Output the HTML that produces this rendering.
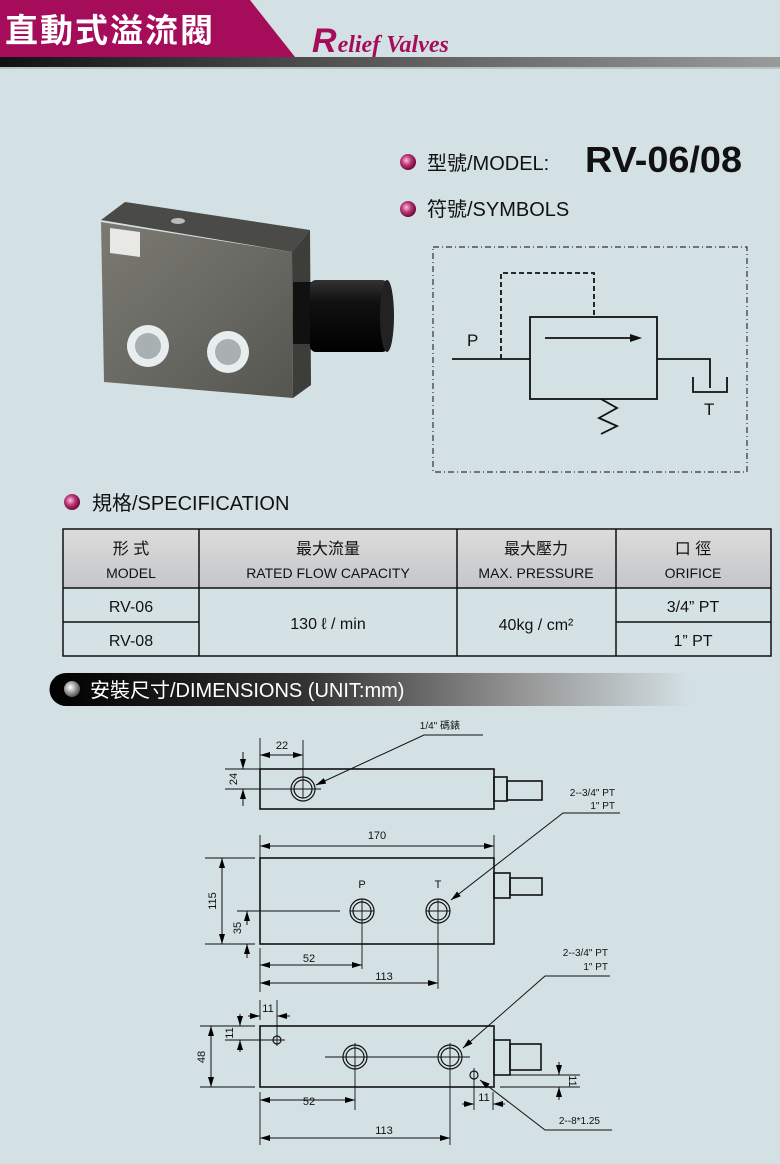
<!DOCTYPE html>
<html><head><meta charset="utf-8"><style>
html,body{margin:0;padding:0;background:#d3e0e4;}
svg{display:block;}
text{font-family:"Liberation Sans","Noto Sans CJK TC",sans-serif;}
</style></head><body>
<svg width="780" height="1164" viewBox="0 0 780 1164" xmlns="http://www.w3.org/2000/svg">
<defs>
<linearGradient id="bar" x1="0" x2="1"><stop offset="0" stop-color="#111"/><stop offset="0.45" stop-color="#555"/><stop offset="1" stop-color="#9a9a9a"/></linearGradient>
<linearGradient id="ban" x1="0" x2="1"><stop offset="0" stop-color="#000"/><stop offset="0.4" stop-color="#333"/><stop offset="0.75" stop-color="#999"/><stop offset="1" stop-color="#d3e0e4"/></linearGradient>
<radialGradient id="bul" cx="0.4" cy="0.4" r="0.6"><stop offset="0" stop-color="#f3c6da"/><stop offset="0.5" stop-color="#c0357a"/><stop offset="1" stop-color="#6a0a38"/></radialGradient>
<radialGradient id="bul2" cx="0.4" cy="0.4" r="0.6"><stop offset="0" stop-color="#fff"/><stop offset="1" stop-color="#555"/></radialGradient>
<linearGradient id="metal" x1="0" y1="0" x2="1" y2="1"><stop offset="0" stop-color="#7a7a72"/><stop offset="0.5" stop-color="#6a6a64"/><stop offset="1" stop-color="#55554f"/></linearGradient>
<linearGradient id="cyl" x1="0" y1="0" x2="0" y2="1"><stop offset="0" stop-color="#333"/><stop offset="0.3" stop-color="#111"/><stop offset="1" stop-color="#000"/></linearGradient>
<linearGradient id="th" x1="0" y1="0" x2="0" y2="1"><stop offset="0" stop-color="#dcdcdc"/><stop offset="1" stop-color="#c4c6c8"/></linearGradient>
<marker id="a" viewBox="0 0 10 6" refX="10" refY="3" markerWidth="10" markerHeight="6" markerUnits="userSpaceOnUse" orient="auto-start-reverse"><path d="M0,0 L10,3 L0,6z" fill="#000"/></marker>
</defs>
<!-- header -->
<polygon points="0,0 250,0 295,57 0,57" fill="#a50d5b"/>
<text x="5" y="42" font-size="33" fill="#fff" font-weight="bold" letter-spacing="2">直動式溢流閥</text>
<text x="312" y="52" font-family="Liberation Serif" font-style="italic" font-weight="bold" fill="#a50d5b"><tspan font-size="34">R</tspan><tspan font-size="24" font-family="Liberation Sans Narrow" dx="1">elief Valves</tspan></text>
<rect x="0" y="57" width="780" height="10" fill="url(#bar)"/>
<rect x="0" y="67" width="780" height="2" fill="#b8c3c6"/>
<!-- photo -->
<polygon points="101,220 125,202 310,230 292,252" fill="#4a4a46"/>
<polygon points="101,222 292,252 293,398 104,382" fill="url(#metal)"/>
<polygon points="292,252 310,230 311,385 293,398" fill="#3d3d3a"/>
<ellipse cx="178" cy="221" rx="7" ry="3" fill="#bbb"/>
<polygon points="110,228 140,232 140,257 110,253" fill="#e8e8e4"/>
<rect x="293" y="282" width="30" height="62" fill="#111"/>
<rect x="310" y="280" width="78" height="72" rx="6" fill="url(#cyl)"/>
<ellipse cx="387" cy="316" rx="7" ry="36" fill="#222"/>
<circle cx="148" cy="346" r="21" fill="#e8eef0"/><circle cx="148" cy="346" r="13" fill="#a8b0b2"/>
<circle cx="228" cy="352" r="21" fill="#e8eef0"/><circle cx="228" cy="352" r="13" fill="#a8b0b2"/>
<!-- model -->
<circle cx="408" cy="162" r="8" fill="url(#bul)"/>
<text x="427" y="170" font-size="20" fill="#111">型號/MODEL:</text>
<text x="585" y="172" font-size="36" font-weight="bold" font-family="Liberation Sans Narrow" fill="#111" textLength="157" lengthAdjust="spacingAndGlyphs">RV-06/08</text>
<circle cx="408" cy="209" r="8" fill="url(#bul)"/>
<text x="427" y="216" font-size="20" fill="#111">符號/SYMBOLS</text>
<!-- symbol -->
<rect x="433" y="247" width="314" height="225" fill="none" stroke="#333" stroke-width="1.2" stroke-dasharray="6,3,1,3"/>
<g stroke="#111" stroke-width="1.8" fill="none">
<rect x="530" y="317" width="127" height="82"/>
<path d="M452,359 H530 M657,359 H710 V388 M693,377 V392 H727 V377"/>
<path d="M501,359 V273 H594 V317" stroke-dasharray="5,3"/>
<path d="M545,338 H632"/>
<path d="M601,399 L617,408 L599,418 L617,426 L601,434"/>
</g>
<path d="M642,338 L630,334 L630,342z" fill="#111"/>
<text x="467" y="346" font-size="17" fill="#111">P</text>
<text x="704" y="415" font-size="17" fill="#111">T</text>
<!-- spec -->
<circle cx="72" cy="502" r="8" fill="url(#bul)"/>
<text x="92" y="510" font-size="20" fill="#111">規格/SPECIFICATION</text>
<rect x="63" y="529" width="708" height="59" fill="url(#th)"/>
<rect x="63" y="588" width="708" height="68" fill="#d5e2e5"/>
<g stroke="#111" stroke-width="1.5" fill="none">
<rect x="63" y="529" width="708" height="127"/>
<path d="M63,588 H771 M63,622 H199 M616,622 H771 M199,529 V656 M457,529 V656 M616,529 V656"/>
</g>
<g font-size="15" fill="#111" text-anchor="middle">
<text x="131" y="554" font-size="16">形 式</text><text x="328" y="554" font-size="16">最大流量</text><text x="536" y="554" font-size="16">最大壓力</text><text x="693" y="554" font-size="16">口 徑</text>
<text x="131" y="578" font-size="14">MODEL</text><text x="328" y="578" font-size="14">RATED FLOW CAPACITY</text><text x="536" y="578" font-size="14">MAX. PRESSURE</text><text x="693" y="578" font-size="14">ORIFICE</text>
<text x="131" y="612" font-size="16">RV-06</text><text x="131" y="646" font-size="16">RV-08</text>
<text x="328" y="629" font-size="16">130 ℓ / min</text><text x="536" y="630" font-size="16">40kg / cm²</text>
<text x="693" y="612" font-size="16">3/4” PT</text><text x="693" y="646" font-size="16">1” PT</text>
</g>
<!-- banner -->
<path d="M66,673 H690 V706 H66 A16.5,16.5 0 0 1 66,673z" fill="url(#ban)"/>
<circle cx="72" cy="689" r="8" fill="url(#bul2)"/>
<text x="90" y="697" font-size="20" fill="#fff">安裝尺寸/DIMENSIONS (UNIT:mm)</text>
<!-- drawings -->
<g stroke="#111" fill="none">
<g stroke-width="1.6">
<rect x="260" y="769" width="234" height="40"/>
<rect x="494" y="777" width="13" height="24"/><rect x="507" y="781" width="35" height="19"/>
<rect x="260" y="858" width="234" height="86"/>
<rect x="494" y="873" width="16" height="25"/><rect x="510" y="878" width="32" height="17"/>
<rect x="260" y="1026" width="234" height="61"/>
<rect x="494" y="1040" width="16" height="35"/><rect x="510" y="1044" width="31" height="26"/>
</g>
<g stroke-width="1.2">
<circle cx="303" cy="789" r="12"/><circle cx="303" cy="789" r="9"/>
<circle cx="362" cy="911" r="12"/><circle cx="362" cy="911" r="9"/>
<circle cx="438" cy="911" r="12"/><circle cx="438" cy="911" r="9"/>
<circle cx="355" cy="1057" r="12"/><circle cx="355" cy="1057" r="9"/>
<circle cx="450" cy="1057" r="12"/><circle cx="450" cy="1057" r="9"/>
<circle cx="277" cy="1040" r="4"/><circle cx="474" cy="1075" r="4"/>
</g>
<g stroke-width="0.9">
<path d="M260,738 V769 M303,740 V798 M225,769 H260 M225,789 H285 M285,789 H321"/>
<path d="M260,835 V858 M494,835 V858 M205,858 H255 M205,944 H255 M237,911 H340 M350,911 H374 M426,911 H450 M362,899 V969 M438,899 V989 M260,948 V992"/>
<path d="M200,1026 H255 M200,1087 H255 M225,1040 H285 M277,1000 V1046 M260,1000 V1020 M325,1057 H470 M355,1043 V1110 M450,1043 V1145 M260,1092 V1145 M474,1068 V1110 M493,1092 V1110 M500,1075 H580 M500,1087 H580"/>
</g>
<g stroke-width="1" marker-end="url(#a)" marker-start="url(#a)">
<path d="M260,755 H303"/>
<path d="M260,846 H494"/>
<path d="M222,858 V944"/>
<path d="M260,965 H362"/>
<path d="M260,983 H438"/>
<path d="M211,1026 V1087"/>
<path d="M260,1100 H355"/>
<path d="M260,1138 H450"/>
</g>
<g stroke-width="1" marker-end="url(#a)">
<path d="M243,752 V769"/><path d="M243,806 V789"/>
<path d="M247,925 V911"/><path d="M247,958 V944" />
<path d="M240,1014 V1026"/><path d="M240,1052 V1040"/>
<path d="M248,1016 H260"/><path d="M290,1016 H277"/>
<path d="M559,1062 V1075"/><path d="M559,1100 V1087"/>
<path d="M462,1104 H474"/><path d="M505,1104 H493"/>
<path d="M483,735 H424 L316,785"/>
<path d="M620,813 H563 L451,900"/>
<path d="M610,976 H545 L463,1048"/>
<path d="M612,1130 H545 L480,1080"/>
</g>
</g>
<g font-size="11" fill="#111" text-anchor="middle">
<text x="282" y="749">22</text>
<text x="377" y="839">170</text>
<text x="309" y="962">52</text>
<text x="384" y="980">113</text>
<text x="309" y="1105">52</text>
<text x="384" y="1134">113</text>
<text x="268" y="1012">11</text>
<text x="484" y="1101">11</text>
<text x="362" y="888">P</text>
<text x="438" y="888">T</text>
<text transform="translate(237,779) rotate(-90)">24</text>
<text transform="translate(216,901) rotate(-90)">115</text>
<text transform="translate(241,928) rotate(-90)">35</text>
<text transform="translate(205,1057) rotate(-90)">48</text>
<text transform="translate(233,1033) rotate(-90)">11</text>
<text transform="translate(569,1081) rotate(90)">11</text>
</g>
<g font-size="10" fill="#111" text-anchor="end">
<text x="460" y="729">1/4" 碼錶</text>
<text x="615" y="796">2--3/4" PT</text><text x="615" y="809">1" PT</text>
<text x="608" y="956">2--3/4" PT</text><text x="608" y="970">1" PT</text>
<text x="600" y="1124">2--8*1.25</text>
</g>
</svg>
</body></html>
